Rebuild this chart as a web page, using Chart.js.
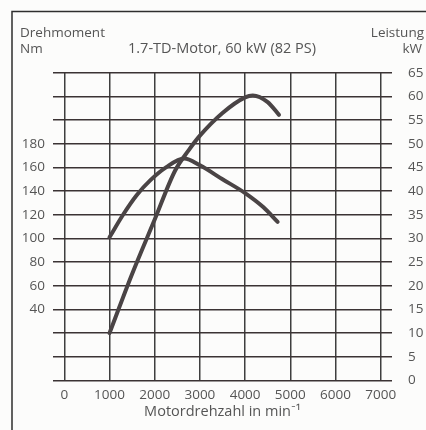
<!DOCTYPE html>
<html>
<head>
<meta charset="utf-8">
<script src="https://cdn.jsdelivr.net/npm/chart.js@4"></script>
<style>
html,body{margin:0;padding:0;background:#fcfcfb;}
#wrap{width:426px;height:430px;position:relative;}
</style>
</head>
<body>
<div id="wrap"><canvas id="c" width="426" height="430"></canvas></div>
<script>
// --- data ---
const rpmTicks = [0, 1000, 2000, 3000, 4000, 5000, 6000, 7000];
const powerRpm = [1000, 1500, 2000, 2450, 2750, 3000, 3500, 4000, 4170, 4500, 4750];
const powerKw  = [10, 22.5, 34, 44.3, 48.6, 51.7, 56.5, 59.8, 60.2, 58.8, 56.1];
const torqueRpm = [1000, 1300, 1600, 1900, 2250, 2650, 3000, 3500, 4000, 4400, 4720];
const torqueNm  = [101, 120, 136.5, 149, 160, 167.5, 161.8, 150, 138.3, 126.5, 114];
const nmLabels = [40, 60, 80, 100, 120, 140, 160, 180];
const texts = {
  leftTop: 'Drehmoment', leftUnit: 'Nm',
  rightTop: 'Leistung', rightUnit: 'kW',
  title: '1.7-TD-Motor, 60 kW (82 PS)',
  xTitle: 'Motordrehzahl in min\u207B\u00B9'
};

const FONT = '"Open Sans", Lato, sans-serif';
const TXT = '#555';
const LINE = '#4a4445';

const overlay = {
  id: 'overlay',
  beforeDraw(chart) {
    const ctx = chart.ctx;
    ctx.save();
    ctx.strokeStyle = '#2e2e2e';
    ctx.lineWidth = 1.5;
    ctx.beginPath();
    ctx.moveTo(12, 430); ctx.lineTo(12, 11.5); ctx.lineTo(426, 11.5);
    ctx.stroke();
    ctx.restore();
  },
  afterDraw(chart) {
    const ctx = chart.ctx;
    ctx.save();
    ctx.fillStyle = TXT;
    ctx.font = '13.5px ' + FONT;
    ctx.textBaseline = 'middle';
    ctx.textAlign = 'left';
    ctx.fillText(texts.leftTop, 20, 33);
    ctx.fillText(texts.leftUnit, 20, 49);
    ctx.textAlign = 'right';
    ctx.fillText(texts.rightTop, 424, 33);
    ctx.fillText(texts.rightUnit, 422, 49);
    ctx.textAlign = 'center';
    ctx.font = '14.5px ' + FONT;
    ctx.fillText(texts.title, 222, 49);
    ctx.restore();
  }
};

new Chart(document.getElementById('c'), {
  type: 'line',
  data: {
    datasets: [
      {
        label: 'Leistung',
        data: powerRpm.map((r, i) => ({x: r, y: powerKw[i]})),
        yAxisID: 'yR',
        borderColor: LINE, borderWidth: 4, pointRadius: 0,
        cubicInterpolationMode: 'monotone', borderCapStyle: 'round', fill: false
      },
      {
        label: 'Drehmoment',
        data: torqueRpm.map((r, i) => ({x: r, y: torqueNm[i]})),
        yAxisID: 'yL',
        borderColor: LINE, borderWidth: 4, pointRadius: 0,
        cubicInterpolationMode: 'monotone', borderCapStyle: 'round', fill: false
      }
    ]
  },
  options: {
    responsive: false,
    animation: false,
    devicePixelRatio: 1,
    layout: {padding: {top: 72.7, left: 0, right: 0, bottom: 0}},
    plugins: {legend: {display: false}, tooltip: {enabled: false}},
    scales: {
      x: {
        type: 'linear', min: -250, max: 7250,
        afterBuildTicks(s) { s.ticks = rpmTicks.map(v => ({value: v})); },
        afterFit(s) { s.height = 49.5; },
        grid: {color: '#3e3e3e', lineWidth: 1.5, drawTicks: false},
        border: {display: false},
        ticks: {color: TXT, font: {family: FONT, size: 13.5}, padding: 7, maxRotation: 0, autoSkip: false,
                callback: v => String(v)},
        title: {display: true, text: texts.xTitle, color: TXT, font: {family: FONT, size: 14.5}, padding: {top: 0, bottom: 9}}
      },
      yL: {
        type: 'linear', position: 'left', min: -20, max: 240,
        afterBuildTicks(s) { const t = []; for (let v = -20; v <= 240; v += 20) t.push({value: v}); s.ticks = t; },
        afterFit(s) { s.width = 53; },
        grid: {display: false, drawTicks: false},
        border: {display: false},
        ticks: {
          color: TXT, font: {family: FONT, size: 13.5}, padding: 8,
          callback: v => nmLabels.includes(v) ? String(v) : ''
        }
      },
      yR: {
        type: 'linear', position: 'right', min: 0, max: 65,
        afterBuildTicks(s) { const t = []; for (let v = 0; v <= 65; v += 5) t.push({value: v}); s.ticks = t; },
        afterFit(s) { s.width = 34; },
        grid: {color: '#3b3334', lineWidth: 1.5, drawTicks: false},
        border: {display: false},
        ticks: {color: TXT, font: {family: FONT, size: 13.5}, padding: 16}
      }
    }
  },
  plugins: [overlay]
});
</script>
</body>
</html>
